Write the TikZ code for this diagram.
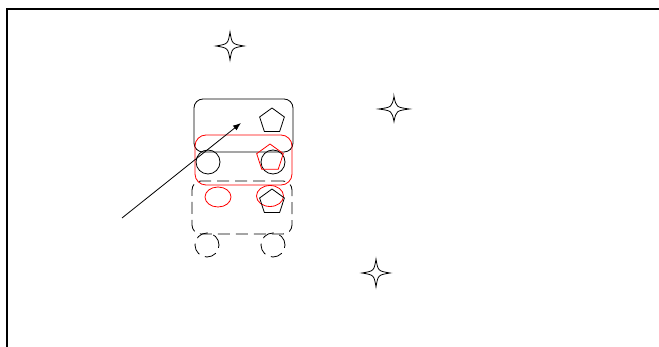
\documentclass[tikz,border=0pt]{standalone}
\usetikzlibrary{shapes.geometric,arrows.meta}
\begin{document}
\begin{tikzpicture}[x=1pt,y=-1pt,
  line width=0.8pt,
  body/.style={draw,rounded corners=9pt,inner sep=0pt},
  wheel/.style={draw,circle,inner sep=0pt,minimum size=24pt},
  oval/.style={draw,ellipse,inner sep=0pt},
  window/.style={draw,regular polygon,regular polygon sides=5,inner sep=0pt},
  dashline/.style={dash pattern=on 12pt off 6pt},
  redline/.style={draw=red},
  starpic/.pic={
    \draw (0,-14) .. controls (2,-2) .. (14,0) .. controls (2,2) .. (0,14)
      .. controls (-2,2) .. (-14,0) .. controls (-2,-2) .. cycle;
  }]
\useasboundingbox (0,0) rectangle (659,347);
% frame
\coordinate (fTL) at (7,9);
\coordinate (fTR) at (659,9);
\coordinate (fBL) at (7,347);
\draw[line width=1.2pt] (fTR) -- (fTL) -- (fBL);

% solid unit
\node[body,minimum width=99pt,minimum height=53pt] (b1) at (243.5,125.5) {};
\node[window,minimum size=26pt] (p1) at (272,121) {};
\node[wheel] (w1a) at (208,162) {};
\node[wheel] (w1b) at (273,162) {};

% red unit
\node[body,redline,rounded corners=11pt,minimum width=97pt,minimum height=50pt] (b2) at (243.5,160) {};
\node[window,redline,minimum size=28pt] (p2) at (270,158) {};
\node[oval,redline,minimum width=26pt,minimum height=20pt] (w2a) at (218,197) {};
\node[oval,redline,minimum width=27pt,minimum height=21pt] (w2b) at (270,196) {};

% dashed unit
\node[body,dashline,minimum width=100pt,minimum height=53pt] (b3) at (242,207.5) {};
\node[window,minimum size=26pt] (p3) at (272,202) {};
\node[wheel,dashline] (w3a) at (207,245) {};
\node[wheel,dashline] (w3b) at (273,245) {};

% arrow
\coordinate (aS) at (122,218);
\coordinate (aE) at (241,123);
\draw[-{Latex[length=8pt,width=6pt]}] (aS) -- (aE);

% stars
\pic at (230,46) {starpic};
\pic[xscale=1.1,yscale=0.9] at (394,109) {starpic};
\pic at (376,273) {starpic};
\end{tikzpicture}
\end{document}
